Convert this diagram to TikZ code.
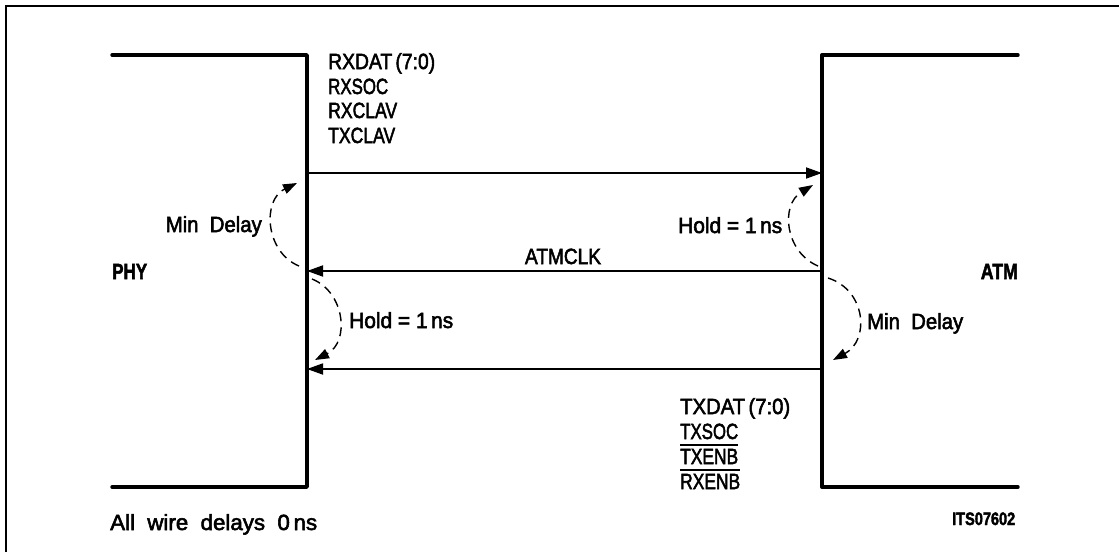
\documentclass[tikz,border=0pt]{standalone}
\usepackage{fontspec}
\usepackage{graphicx}
\setmainfont{Liberation Sans}[FakeBold=2.5]
\usetikzlibrary{arrows.meta}
\newcommand{\tw}[2]{\resizebox{#1}{\height}{#2}}
\newcommand{\ovl}[1]{\leavevmode\vbox{\hrule height 1.8pt\kern 3pt\hbox{#1}}}
\begin{document}
\begin{tikzpicture}[x=1pt,y=-1pt,
  font=\fontsize{22}{24}\selectfont,
  lbl/.style={anchor=base west, inner sep=0pt},
  lblr/.style={anchor=base east, inner sep=0pt},
  lblc/.style={anchor=base, inner sep=0pt},
  box/.style={line width=3.4pt, line join=round, line cap=round},
  sig/.style={line width=1.8pt, -{Triangle[length=16pt,width=11pt]}},
  dly/.style={line width=1.4pt, dash pattern=on 9pt off 6pt, -{Triangle[length=14pt,width=10pt]}},
  frameline/.style={line width=1.5pt}]
\useasboundingbox (0,0) rectangle (1119,552);
\fill[white] (0,0) rectangle (1119,552);
% frame
\draw[frameline] (6,552) -- (6,6) -- (1119,6);
% blocks
\draw[box] (112,55) -- (307,55) -- (307,487) -- (112,487);
\draw[box] (1018,55) -- (822,55) -- (822,487) -- (1018,487);
% connector end points
\coordinate (phyA) at (307,173);
\coordinate (atmA) at (822,173);
\coordinate (phyB) at (307,271);
\coordinate (atmB) at (822,271);
\coordinate (phyC) at (307,369);
\coordinate (atmC) at (822,369);
\draw[sig] (phyA) -- (atmA);
\draw[sig] (atmB) -- (phyB);
\draw[sig] (atmC) -- (phyC);
% delay arcs
\coordinate (d1s) at (299,266); \coordinate (d1e) at (297,183);
\coordinate (d2s) at (312,279); \coordinate (d2e) at (315,360);
\coordinate (d3s) at (818,266); \coordinate (d3e) at (813,185);
\coordinate (d4s) at (828,278); \coordinate (d4e) at (833,360);
\draw[dly] (d1s) .. controls (265,252) and (262,200) .. (d1e);
\draw[dly] (d2s) .. controls (345,292) and (350,342) .. (d2e);
\draw[dly] (d3s) .. controls (785,252) and (780,205) .. (d3e);
\draw[dly] (d4s) .. controls (866,290) and (870,340) .. (d4e);
% signal names
\node[lbl] (rxdat) at (328,69) {\tw{107pt}{RXDAT\,(7:0)}};
\node[lbl] (rxsoc) at (328,94) {\tw{60pt}{RXSOC}};
\node[lbl] (rxclav) at (328,118) {\tw{69pt}{RXCLAV}};
\node[lbl] (txclav) at (328,143) {\tw{67pt}{TXCLAV}};
\node[lbl] (txdat) at (680,414) {\tw{110pt}{TXDAT\,(7:0)}};
\node[lbl] (txsoc) at (680,439) {\tw{58pt}{TXSOC}};
\node[lbl] (txenb) at (680,464) {\tw{58pt}{\ovl{TXENB}}};
\node[lbl] (rxenb) at (680,489) {\tw{60pt}{\ovl{RXENB}}};
\node[lblc] (atmclk) at (563,264) {\tw{76pt}{ATMCLK}};
% delay labels
\node[lblr] (minL) at (262,232) {\tw{96pt}{Min~~Delay}};
\node[lbl] (holdR) at (678,233) {\tw{104pt}{Hold = 1\,ns}};
\node[lbl] (holdL) at (349,328) {\tw{104pt}{Hold = 1\,ns}};
\node[lbl] (minR) at (867,329) {\tw{96pt}{Min~~Delay}};
% block names
\node[lbl] (phy) at (112,279) {\tw{35pt}{\bfseries PHY}};
\node[lblr] (atm) at (1018,279) {\tw{37pt}{\bfseries ATM}};
% footer
\node[lbl] (note) at (110,530) {\tw{207pt}{All~~wire~~delays~~0\,ns}};
\node[lbl, font=\fontsize{18}{20}\selectfont] (code) at (952,525) {\tw{63pt}{\bfseries ITS07602}};
\end{tikzpicture}
\end{document}
